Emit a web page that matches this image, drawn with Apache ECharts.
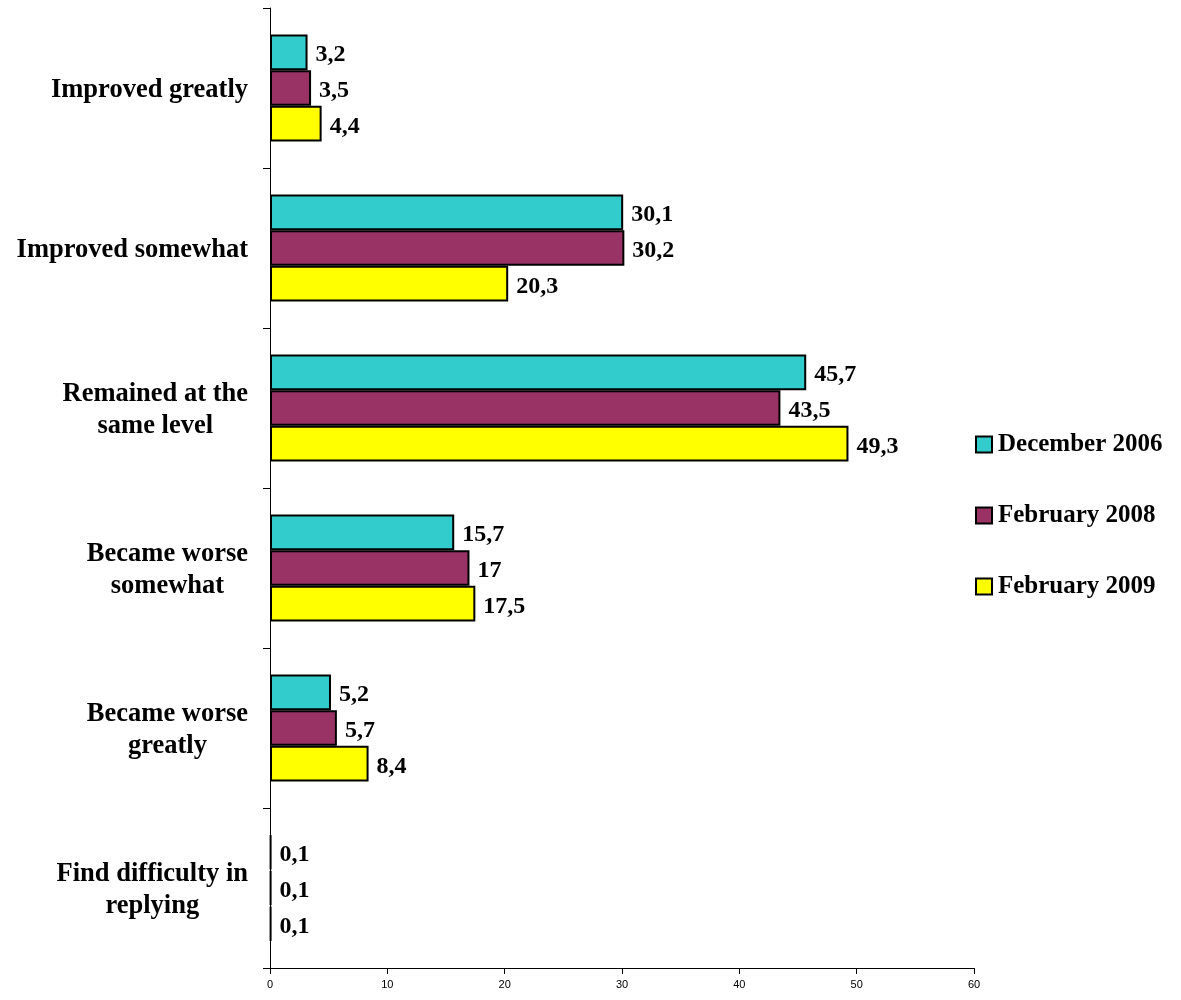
<!DOCTYPE html>
<html><head><meta charset="utf-8">
<script src="https://cdn.jsdelivr.net/npm/echarts@6/dist/echarts.min.js"></script>
<style>html,body{margin:0;padding:0;background:#fff}#c{width:1181px;height:1000px}</style>
</head><body><div id="c"></div>
<script>
const categories = ["Improved greatly", "Improved somewhat", "Remained at the\nsame level", "Became worse\nsomewhat", "Became worse\ngreatly", "Find difficulty in\nreplying"];
const seriesNames = ["December 2006", "February 2008", "February 2009"];
const dec2006 = [3.2, 30.1, 45.7, 15.7, 5.2, 0.1];
const feb2008 = [3.5, 30.2, 43.5, 17, 5.7, 0.1];
const feb2009 = [4.4, 20.3, 49.3, 17.5, 8.4, 0.1];
const xTicks = [0, 10, 20, 30, 40, 50, 60];
const colors = ["#33CCCC", "#993366", "#FFFF00"];

const serif = "'Liberation Serif', 'Times New Roman', serif";
const chart = echarts.init(document.getElementById('c'), null, {renderer: 'canvas'});
const dataSets = [dec2006, feb2008, feb2009];
chart.setOption({
  animation: false,
  grid: {left: 270, right: 207, top: 8, bottom: 32, containLabel: false},
  legend: {
    orient: 'vertical', left: 970, top: 427, padding: 5, itemWidth: 16, itemHeight: 16, itemGap: 46,
    icon: 'rect',
    textStyle: {fontFamily: serif, fontWeight: 'bold', fontSize: 25, color: '#000', padding: [0,0,0,1]},
    data: seriesNames
  },
  xAxis: {
    type: 'value', min: xTicks[0], max: xTicks[xTicks.length-1], interval: 10,
    axisLine: {show: true, lineStyle: {color: '#000', width: 1}},
    axisTick: {show: true, length: 6, lineStyle: {color: '#000'}},
    splitLine: {show: false},
    axisLabel: {fontFamily: "'Liberation Sans', Arial, sans-serif", fontSize: 11, color: '#000', margin: 11}
  },
  yAxis: {
    type: 'category', inverse: true, data: categories,
    axisLine: {show: true, lineStyle: {color: '#000', width: 1}},
    axisTick: {show: true, length: 7, lineStyle: {color: '#000'}},
    axisLabel: {
      margin: 22, align: 'right', padding: [4, 0, 0, 0],
      formatter: v => v.split('\n').map(s => '{c|' + s + '}').join('\n'),
      rich: {c: {fontFamily: serif, fontWeight: 'bold', fontSize: 26.5, color: '#000', lineHeight: 32, align: 'center'}}
    }
  },
  series: seriesNames.map((n, i) => ({
    name: n, type: 'bar', data: dataSets[i],
    barGap: '0%', barCategoryGap: '33%',
    itemStyle: {color: colors[i], borderColor: '#000', borderWidth: 2},
    label: {show: true, position: 'right', distance: 8, offset: [0, 3], fontFamily: serif, fontWeight: 'bold', fontSize: 24, color: '#000',
      formatter: p => String(p.value).replace('.', ',')}
  }))
});
</script></body></html>
